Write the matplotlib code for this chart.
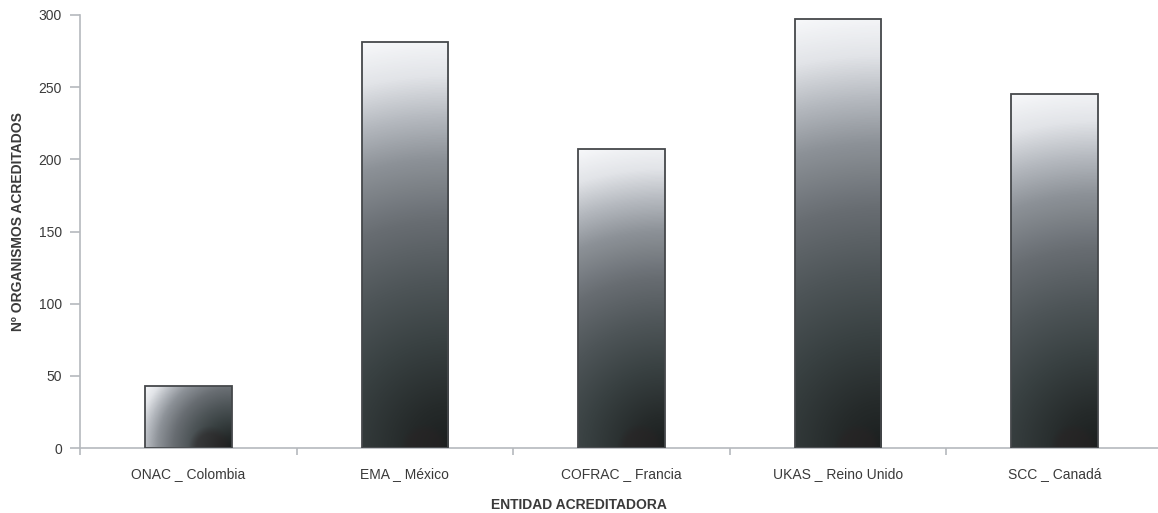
import numpy as np
import matplotlib
matplotlib.use("Agg")
import matplotlib.pyplot as plt
from matplotlib.colors import LinearSegmentedColormap, to_rgb
from matplotlib import font_manager

categories = ["ONAC _ Colombia", "EMA _ México", "COFRAC _ Francia", "UKAS _ Reino Unido", "SCC _ Canadá"]
values = [43, 281, 207, 297, 245]
yticks = [0, 50, 100, 150, 200, 250, 300]
xlabel = "ENTIDAD ACREDITADORA"
ylabel = "Nº ORGANISMOS ACREDITADOS"

names = {f.name for f in font_manager.fontManager.ttflist}
fam = ["Liberation Sans Narrow", "DejaVu Sans"] if "Liberation Sans Narrow" in names else ["Liberation Sans", "DejaVu Sans"]
plt.rcParams["font.family"] = fam

W, H = 1158, 513
fig = plt.figure(figsize=(W / 100, H / 100), dpi=100)
ax = fig.add_axes([80 / W, 1 - 448 / H, (1163 - 80) / W, (448 - 15) / H])

x = np.arange(len(categories))
bars = ax.bar(x, values, width=0.40, color="none", edgecolor="#45484b", linewidth=1.3, zorder=3)
ax.set_xlim(-0.5, len(categories) - 0.5)
ax.set_ylim(0, 300)
ax.set_yticks(yticks)
ax.set_yticklabels([str(v) for v in yticks])

cmap = LinearSegmentedColormap.from_list("g", [
    (0.0, "#1b1f1f"), (0.1, "#252a2a"), (0.25, "#384041"), (0.4, "#4e5558"),
    (0.55, "#686d72"), (0.7, "#8d9298"), (0.8, "#b5b9bf"), (0.9, "#e2e4e8"), (1.0, "#f7f8fa")])

fig.canvas.draw()
trans = ax.transData
red = np.array(to_rgb("#2a2324"))
for b in bars:
    x0, y0 = b.get_x(), b.get_y()
    w, h = b.get_width(), b.get_height()
    p0 = trans.transform((x0, y0)); p1 = trans.transform((x0 + w, y0 + h))
    wpx, hpx = abs(p1[0] - p0[0]), abs(p1[1] - p0[1])
    nu, nv = max(int(wpx), 2), max(int(hpx), 2)
    u = np.linspace(0, 1, nu)[None, :]
    v = np.linspace(1, 0, nv)[:, None]  # top row first
    d = np.sqrt(((1 - u) * wpx) ** 2 + (v * hpx) ** 2) / np.sqrt(wpx ** 2 + hpx ** 2)
    img = cmap(d)[..., :3]
    # faint dark reddish spot at bottom-right
    r = min(24, 0.35 * hpx)
    cx = wpx - r
    dist = np.sqrt((u * wpx - cx) ** 2 + (v * hpx) ** 2)
    m = 0.45 * np.clip((r - dist) / 8, 0, 1)[..., None]
    img = img * (1 - m) + red * m
    im = ax.imshow(img, extent=(x0, x0 + w, y0, y0 + h), aspect="auto", zorder=2, interpolation="bilinear")
    im.set_clip_path(b)

ax.set_xlim(-0.5, len(categories) - 0.5)
ax.set_ylim(0, 300)

for s in ["top", "right"]:
    ax.spines[s].set_visible(False)
for s in ["left", "bottom"]:
    ax.spines[s].set_color("#b5b9bd")
    ax.spines[s].set_linewidth(1.2)

txtc = "#3a3a3a"
ax.set_xticks(x)
ax.set_xticklabels(categories)
ax.set_xticks(np.arange(-0.5, len(categories)), minor=True)
ax.tick_params(axis="x", which="major", length=0, pad=14, labelsize=10, labelcolor=txtc)
ax.tick_params(axis="x", which="minor", length=5, width=1.2, color="#b5b9bd", direction="out")
ax.tick_params(axis="y", length=7, width=1.2, color="#b5b9bd", pad=6, labelsize=10, labelcolor=txtc)

fig.text(0.5, 1 - 505 / H, xlabel, ha="center", va="center", fontsize=10, fontweight="bold", color=txtc)
fig.text(18 / W, 1 - 222 / H, ylabel, ha="center", va="center", rotation=90, fontsize=10, fontweight="bold", color=txtc)

fig.savefig("out.png", dpi=100)
